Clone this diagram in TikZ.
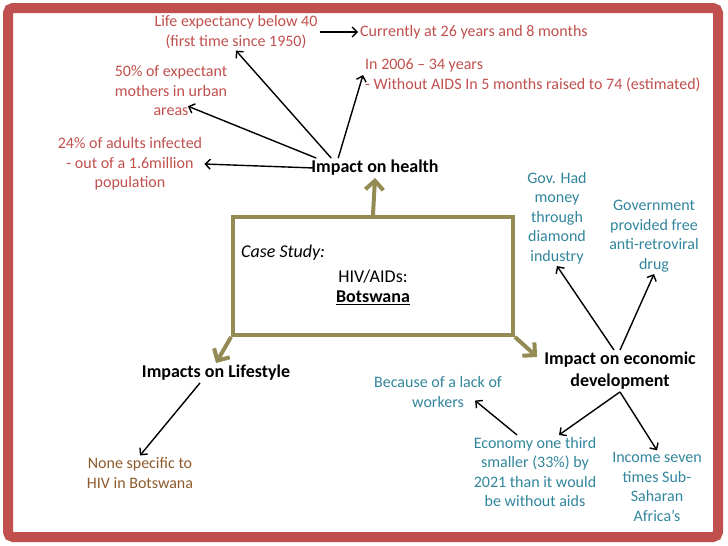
\documentclass[tikz,border=0pt]{standalone}
\usepackage{fontspec}
\setmainfont{Carlito}
\usetikzlibrary{arrows.meta, positioning}
\definecolor{framered}{HTML}{C0504D}
\definecolor{healthred}{HTML}{C0504D}
\definecolor{boxolive}{HTML}{948A54}
\definecolor{econteal}{HTML}{31859C}
\definecolor{lifebrown}{HTML}{8E5A2B}

\begin{document}
\begin{tikzpicture}[
    x=1pt, y=-1pt,
    txt/.style={align=center, font=\fontsize{16}{19.5}\selectfont, inner sep=2pt},
    head/.style={txt, font=\fontsize{18}{22}\selectfont\bfseries},
    boxtxt/.style={txt, font=\fontsize{18}{22}\selectfont},
    arr/.style={-{Straight Barb[length=5pt,width=10pt]}, line width=1.4pt},
    bigarr/.style={-{Straight Barb[length=9pt,width=18pt]}, line width=4pt, boxolive},
]
\useasboundingbox (0,0) rectangle (728,546);
\draw[framered, line width=10pt, rounded corners=5pt] (8,8) rectangle (718,537);

\node[draw=boxolive, line width=4pt, minimum width=280pt, minimum height=118pt] (casebox) at (373,276) {};
\node[boxtxt, anchor=west, font=\fontsize{18}{22}\selectfont\itshape] (study) at (239,253) {Case Study:};
\node[boxtxt] (hiv) at (373,277) {HIV/AIDs:};
\node[head] (country) at (373,298) {\underline{Botswana}};

\node[head] (health) at (375,168) {Impact on health};
\node[txt, text=healthred] (life) at (236,32) {Life expectancy below 40\\(first time since 1950)};
\node[txt, text=healthred, anchor=west] (current) at (358,32) {Currently at 26 years and 8 months};
\node[txt, text=healthred, anchor=west, align=left] (recent) at (363,75) {In 2006 -- 34 years\\- Without AIDS In 5 months raised to 74 (estimated)};
\node[txt, text=healthred] (mothers) at (171,91) {50\% of expectant\\mothers in urban\\areas};
\node[txt, text=healthred] (adults) at (130,164) {24\% of adults infected\\- out of a 1.6million\\population};

\node[head] (econ) at (620,371) {Impact on economic\\development};
\node[txt, text=econteal] (diamond) at (557,218) {Gov. Had\\money\\through\\diamond\\industry};
\node[txt, text=econteal] (drug) at (654,236) {Government\\provided free\\anti-retroviral\\drug};
\node[txt, text=econteal] (workers) at (438,392) {Because of a lack of\\workers};
\node[txt, text=econteal] (smaller) at (535,472) {Economy one third\\smaller (33\%) by\\2021 than it would\\be without aids};
\node[txt, text=econteal] (income) at (657,487) {Income seven\\times Sub-\\Saharan\\Africa's};

\node[head] (lifestyle) at (216,373) {Impacts on Lifestyle};
\node[txt, text=lifebrown] (nonespec) at (140,473) {None specific to\\HIV in Botswana};

\draw[bigarr] (casebox.north) -- (health.south);
\draw[bigarr] (casebox.south west) -- (lifestyle.north);
\draw[bigarr] (casebox.south east) -- ([xshift=-5pt,yshift=14pt]econ.west);

\draw[arr] ([xshift=22pt]health.north west) -- (life.south);
\draw[arr] ([xshift=7pt]health.north west) -- ([xshift=17pt,yshift=12pt]mothers.south);
\draw[arr] ([xshift=5pt]health.west) -- (adults.east);
\draw[arr] ([xshift=29pt]health.north west) -- (recent.west);
\draw[arr] (life.east) -- (current.west);

\draw[arr] ([xshift=-6pt]econ.north) -- (diamond.south);
\draw[arr] (econ.north) -- (drug.south);
\draw[arr] (econ.south) -- ([xshift=24pt]smaller.north);
\draw[arr] (econ.south) -- (income.north);
\draw[arr] ([xshift=-18pt]smaller.north) -- ([xshift=-29pt,yshift=9pt]workers.south east);

\draw[arr] ([xshift=-16pt]lifestyle.south) -- (nonespec.north);
\end{tikzpicture}
\end{document}
